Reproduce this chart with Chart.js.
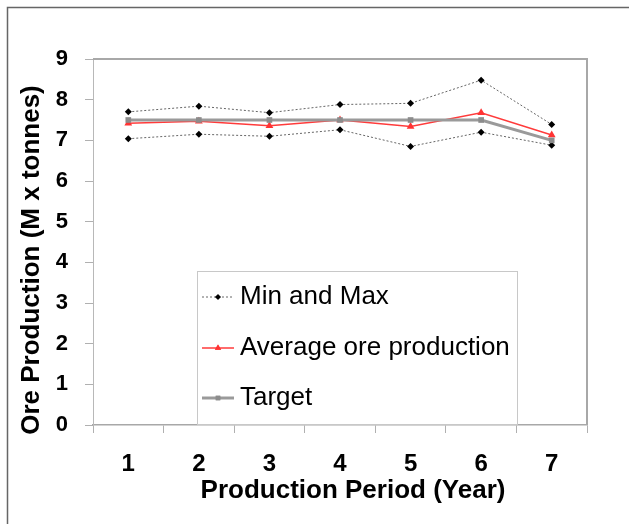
<!DOCTYPE html>
<html>
<head>
<meta charset="utf-8">
<script src="https://cdn.jsdelivr.net/npm/chart.js@4"></script>
<style>
  body { margin: 0; background: #fff; }
  #wrap { position: relative; width: 629px; height: 524px; }
</style>
</head>
<body>
<div id="wrap"><canvas id="oreChart"></canvas></div>
<script>
// data
const years = ['1', '2', '3', '4', '5', '6', '7'];
const maxProd = [7.70, 7.84, 7.68, 7.88, 7.91, 8.48, 7.39];
const minProd = [7.04, 7.15, 7.10, 7.26, 6.85, 7.20, 6.88];
const avgProd = [7.42, 7.47, 7.36, 7.50, 7.34, 7.68, 7.13];
const target = [7.5, 7.5, 7.5, 7.5, 7.5, 7.5, 7.0];
const yTicks = [0, 1, 2, 3, 4, 5, 6, 7, 8, 9];
const yTitle = 'Ore Production (M x tonnes)';
const xTitle = 'Production Period (Year)';

const FONT = '"Liberation Sans", Arial, sans-serif';

const dotted = {
  borderColor: '#666',
  borderWidth: 1,
  borderDash: [2, 2],
  pointStyle: 'rectRot',
  pointRadius: 3.5,
  pointBackgroundColor: '#000',
  pointBorderColor: '#000',
  pointBorderWidth: 0,
  tension: 0,
  order: 2
};

// frame around the whole picture + top/right border of the plot + axis titles
const framePlugin = {
  id: 'frame',
  beforeDraw(chart) {
    const c = chart.ctx;
    c.save();
    c.fillStyle = '#fff';
    c.fillRect(0, 0, chart.width, chart.height);
    c.strokeStyle = '#666';
    c.lineWidth = 1.5;
    c.beginPath();
    c.moveTo(7.5, chart.height);
    c.lineTo(7.5, 7.5);
    c.lineTo(chart.width, 7.5);
    c.stroke();
    c.restore();
  },
  afterDraw(chart) {
    const a = chart.chartArea;
    const c = chart.ctx;
    c.save();
    c.strokeStyle = '#a8a8a8';
    c.lineWidth = 2;
    c.beginPath();
    c.moveTo(a.left, a.top);
    c.lineTo(a.right, a.top);
    c.lineTo(a.right, a.bottom);
    c.stroke();

    c.fillStyle = '#000';
    c.font = 'bold 26px ' + FONT;
    c.textAlign = 'center';
    c.textBaseline = 'middle';
    // titles sit a little off the plot centre in the original
    c.fillText(xTitle, 353, 491);
    c.translate(32, 260);
    c.rotate(-Math.PI / 2);
    c.fillText(yTitle, 0, 0);
    c.restore();
  }
};

// boxed legend sitting inside the plot
const boxLegend = {
  id: 'boxLegend',
  afterDraw(chart) {
    const c = chart.ctx;
    const box = { x: 197.5, y: 271.5, w: 320, h: 153 };
    c.save();
    c.fillStyle = '#fff';
    c.fillRect(box.x, box.y, box.w, box.h);
    c.strokeStyle = '#c8c8c8';
    c.lineWidth = 1;
    c.strokeRect(box.x, box.y, box.w, box.h);

    const items = chart.data.datasets.filter(d => !d.noLegend);
    const rows = [297, 348, 398];
    items.forEach((ds, i) => {
      const y = rows[i];
      c.save();
      c.strokeStyle = ds.borderColor;
      c.lineWidth = ds.borderWidth;
      c.setLineDash(ds.borderDash || []);
      c.beginPath();
      c.moveTo(202, y);
      c.lineTo(234, y);
      c.stroke();
      c.restore();
      c.fillStyle = ds.pointBackgroundColor;
      c.beginPath();
      Chart.helpers.drawPoint(c, {
        pointStyle: ds.pointStyle,
        radius: ds.pointRadius * 0.8,
        borderWidth: 0,
        rotation: 0
      }, 218, y);
      c.fill();
      c.fillStyle = '#000';
      c.font = '26px ' + FONT;
      c.textBaseline = 'middle';
      c.textAlign = 'left';
      c.fillText(ds.label, 240, y);
    });
    c.restore();
  }
};

new Chart(document.getElementById('oreChart'), {
  type: 'line',
  data: {
    labels: years,
    datasets: [
      Object.assign({ label: 'Min and Max', data: maxProd }, dotted),
      Object.assign({ label: 'Min and Max', data: minProd, noLegend: true }, dotted),
      {
        label: 'Average ore production',
        data: avgProd,
        borderColor: '#ff3b3b',
        borderWidth: 1.5,
        pointStyle: 'triangle',
        pointRadius: 4.5,
        pointBackgroundColor: '#ff3333',
        pointBorderColor: '#ff3333',
        pointBorderWidth: 0,
        tension: 0,
        order: 1
      },
      {
        label: 'Target',
        data: target,
        borderColor: '#9a9a9a',
        borderWidth: 3,
        pointStyle: 'rect',
        pointRadius: 4,
        pointBackgroundColor: '#8c8c8c',
        pointBorderColor: '#8c8c8c',
        pointBorderWidth: 0,
        tension: 0,
        order: 0
      }
    ]
  },
  options: {
    responsive: true,
    maintainAspectRatio: false,
    animation: false,
    layout: { padding: { top: 59, right: 42, left: 0, bottom: 0 } },
    plugins: {
      legend: { display: false },
      tooltip: { enabled: false }
    },
    scales: {
      x: {
        offset: true,
        grid: { offset: true, drawOnChartArea: false, tickLength: 8, color: '#b0b0b0' },
        border: { color: '#a8a8a8', width: 1.5 },
        ticks: { color: '#000', font: { family: FONT, size: 24, weight: 'bold' }, padding: 17 },
        afterFit(s) { s.height = 99; }
      },
      y: {
        min: 0,
        max: 9,
        afterBuildTicks(s) { s.ticks = yTicks.map(v => ({ value: v })); },
        grid: { drawOnChartArea: false, tickLength: 8, color: '#b0b0b0' },
        border: { color: '#b8b8b8', width: 1 },
        ticks: { color: '#000', font: { family: FONT, size: 22, weight: 'bold' }, padding: 17 },
        afterFit(s) { s.width = 93; }
      }
    }
  },
  plugins: [framePlugin, boxLegend]
});
</script>
</body>
</html>
